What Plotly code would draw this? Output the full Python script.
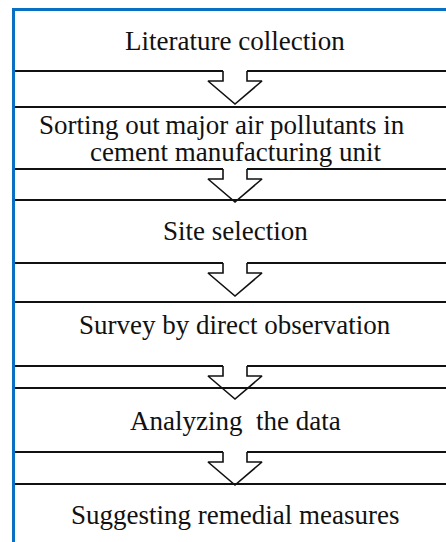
import plotly.graph_objects as go

# Flowchart content
step_labels = [
    ["Literature collection"],
    ["Sorting out\u2009major air pollutants in", "cement manufacturing unit"],
    ["Site selection"],
    ["Survey by direct observation"],
    ["Analyzing  the data"],
    ["Suggesting remedial measures"],
]

# Layout geometry (pixel space of the 446x542 canvas)
W, H = 446, 542
LEFT = 15
band_tops = [71, 169, 263, 366, 452]       # upper line of each arrow band
band_bottoms = [107, 200, 302, 388, 484]   # lower line of each arrow band
text_y = [[41], [125, 152], [231], [325], [421], [515]]
text_x = [[235], [222, 235], [235], [235], [235], [235]]
CX = 235
SHAFT_L, SHAFT_R = 223, 247
HEAD_L, HEAD_R = 208, 262
NOTCH = 10
TIP = 33

fig = go.Figure()

# horizontal lines
lx, ly = [], []
for t, b in zip(band_tops, band_bottoms):
    lx += [LEFT, SHAFT_L, None, SHAFT_R, W + 5, None]
    ly += [t, t, None, t, t, None]
    lx += [LEFT, W + 5, None]
    ly += [b, b, None]
fig.add_trace(go.Scatter(x=lx, y=ly, mode="lines",
                         line=dict(color="#111111", width=2),
                         hoverinfo="skip", showlegend=False))

# arrows
ax, ay = [], []
for t in band_tops:
    ax += [SHAFT_L, SHAFT_L, HEAD_L, CX, HEAD_R, SHAFT_R, SHAFT_R, None]
    ay += [t, t + NOTCH, t + NOTCH, t + TIP, t + NOTCH, t + NOTCH, t, None]
fig.add_trace(go.Scatter(x=ax, y=ay, mode="lines",
                         line=dict(color="#111111", width=1.6),
                         hoverinfo="skip", showlegend=False))

# blue frame (left & top)
fig.add_trace(go.Scatter(x=[13.5, 13.5, None, 12, W + 5],
                         y=[H + 5, 8, None, 9.5, 9.5], mode="lines",
                         line=dict(color="#0A70C4", width=3),
                         hoverinfo="skip", showlegend=False))

for lines, xs, ys in zip(step_labels, text_x, text_y):
    for txt, xx, yy in zip(lines, xs, ys):
        fig.add_annotation(x=xx, y=yy, text=txt, showarrow=False,
                           xanchor="center", yanchor="middle",
                           font=dict(family="Liberation Serif", size=27,
                                     color="#111111"))

fig.update_layout(
    width=W, height=H,
    margin=dict(l=0, r=0, t=0, b=0),
    paper_bgcolor="white", plot_bgcolor="white",
    xaxis=dict(range=[0, W], visible=False, fixedrange=True),
    yaxis=dict(range=[H, 0], visible=False, fixedrange=True),
)

fig.write_html(
    "out.html",
    config={"displayModeBar": False},
    post_script="document.body.style.margin='0';document.body.style.overflow='hidden';",
)
